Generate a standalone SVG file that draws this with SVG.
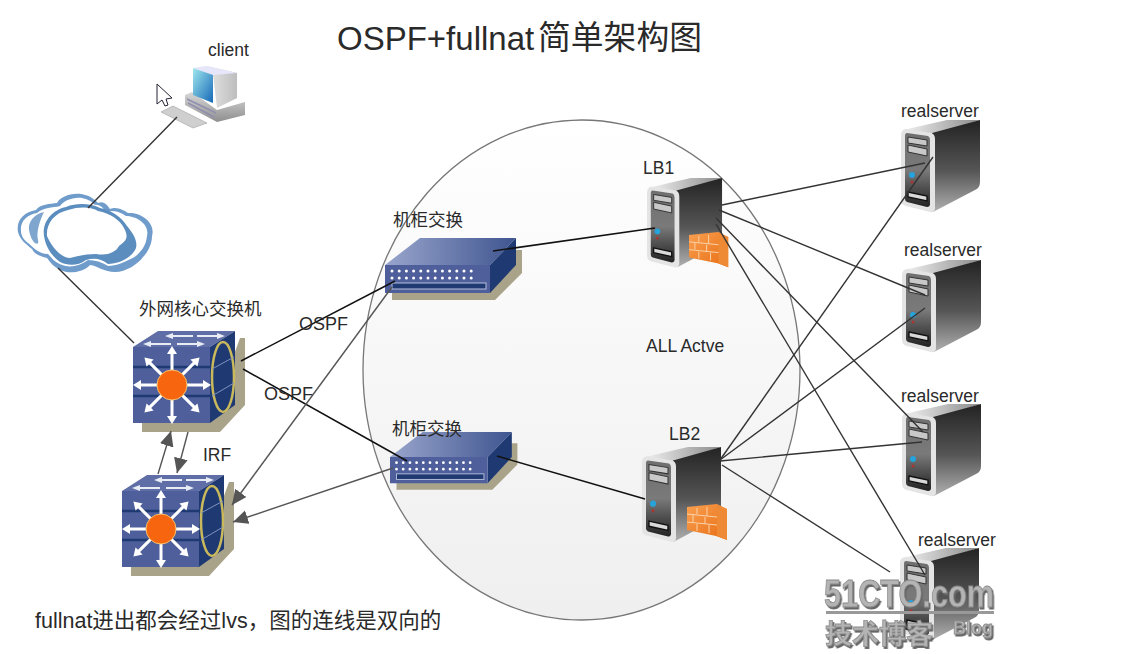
<svg xmlns="http://www.w3.org/2000/svg" width="1124" height="654" viewBox="0 0 1124 654">
<style>
text{font-family:"Liberation Sans","Noto Sans CJK SC",sans-serif;fill:#2a2a2a}
.l{font-size:17.5px}
.con line{stroke:#333;stroke-width:1.4}
.blk line{stroke:#111;stroke-width:1.5}
.arr line{stroke:#555;stroke-width:1.4;marker-end:url(#ah)}
.wm{font-weight:bold;fill:#b4b4b4;stroke:#8c8c8c;stroke-width:.8;filter:url(#ds)}
</style>
<defs>
<filter id="ds" x="-5%" y="-5%" width="110%" height="120%"><feDropShadow dx="1.500" dy="2" stdDeviation=".6" flood-color="#666"/></filter>
<marker id="ah" markerUnits="userSpaceOnUse" markerWidth="18" markerHeight="16" refX="15" refY="7" orient="auto"><path d="M0 0L15 7L0 14z" fill="#555"/></marker>
<linearGradient id="el" x1="0" y1="0" x2="0" y2="1"><stop offset="0" stop-color="#fff"/><stop offset="1" stop-color="#efefef"/></linearGradient>
<linearGradient id="side" x1="0" y1="0" x2="0" y2="1"><stop offset="0" stop-color="#232323"/><stop offset=".55" stop-color="#555"/><stop offset="1" stop-color="#b0b0b0"/></linearGradient>
<linearGradient id="topg" x1="0" y1="0" x2="1" y2="0"><stop offset="0" stop-color="#f2f2f2"/><stop offset="1" stop-color="#8a8a8a"/></linearGradient>
<linearGradient id="face" x1="0" y1="0" x2="0" y2="1"><stop offset="0" stop-color="#6f6f6f"/><stop offset=".5" stop-color="#7a7a7a"/><stop offset="1" stop-color="#222"/></linearGradient>
<linearGradient id="swtop" x1="0" y1="0" x2="1" y2="0"><stop offset="0" stop-color="#99a5cc"/><stop offset="1" stop-color="#3f5590"/></linearGradient>
<linearGradient id="scr" x1="0" y1="0" x2="1" y2="1"><stop offset="0" stop-color="#9fe8ee"/><stop offset="1" stop-color="#1768b8"/></linearGradient>
<linearGradient id="wall" x1="0" y1="0" x2="1" y2="1"><stop offset="0" stop-color="#f9a050"/><stop offset="1" stop-color="#e86d14"/></linearGradient>
<linearGradient id="pc" x1="0" y1="0" x2="1" y2="0"><stop offset="0" stop-color="#fafafa"/><stop offset="1" stop-color="#bdbdbd"/></linearGradient>
<linearGradient id="pcb" x1="0" y1="0" x2="0" y2="1"><stop offset="0" stop-color="#d8d8d8"/><stop offset="1" stop-color="#8e8e8e"/></linearGradient>
<g id="server">
<path d="M2 10L46 0H79L33 14z" fill="url(#topg)"/>
<path d="M31 13L79 0V62Q79 68 74 70L32 92z" fill="url(#side)"/>
<path d="M6 9L30 13Q34 14 34 19V88Q34 93 29 92L5 86Q0 85 0 80V15Q0 9 6 9z" fill="#e4e4e4"/>
<path d="M6 13L27 16Q29 17 29 20V84Q29 87 26 87L6 82Q4 81 4 79V16Q4 13 6 13z" fill="url(#face)"/>
<path d="M7 17L26 20V26L7 23zM7 25L26 29V36L7 32z" fill="#c8c8c8" stroke="#333" stroke-width="1"/>
<path d="M7 72L26 76V81L7 77z" fill="#d8d8d8" stroke="#111" stroke-width="1.400"/>
<circle cx="11" cy="55" r="3" fill="#27a3dc"/><circle cx="11" cy="62" r="1.500" fill="#a33"/>
</g>
<g id="wall1">
<path d="M0 3L30 0L40 5V36L29 32L0 26z" fill="url(#wall)"/>
<path d="M30 10V32L40 36V5L30 1z" fill="#ee8a35"/>
<path d="M0 10L30 13M0 18L30 21M10 4V10M20 3V12M6 11V18M18 13V20M10 20V27M22 21V29" stroke="#fbd2a8" stroke-width="1" fill="none"/>
</g>
<g id="arrow"><path d="M14 -1.500H31V-5L39 0L31 5V1.500H14z" fill="#fff"/></g>
<path id="ta" d="M0 -1H20V-3L28 0L20 3V1H0z" fill="#e8ecf5"/>
<path id="tb" d="M0 0L8 -3V-1H28V1H8V3z" fill="#e8ecf5"/>
<g id="core">
<path d="M107 7H112V74L87 101H9V90H77z" fill="#a9a38a"/>
<path d="M0 16L25 0H102L77 16z" fill="#5f6ea6"/>
<use href="#tb" x="10" y="13"/><use href="#ta" x="44" y="13"/><use href="#tb" x="32" y="5"/><use href="#ta" x="64" y="5"/>
<path d="M77 16L102 0V74L77 92z" fill="#1f3a72"/>
<path d="M0 16H77V92H0z" fill="#4e5f9c"/>
<path d="M0 36H77M0 65H77" stroke="#1f3a72" stroke-width="2.500"/>
<ellipse cx="90" cy="46" rx="11" ry="35" fill="#1f3a72" stroke="#c9b95c" stroke-width="2.500"/>
<path d="M79 38L101 26M79 65L101 52" stroke="#7f92c0" stroke-width="1"/>
<g transform="translate(39 54)">
<use href="#arrow"/><use href="#arrow" transform="rotate(45)"/><use href="#arrow" transform="rotate(90)"/><use href="#arrow" transform="rotate(135)"/><use href="#arrow" transform="rotate(180)"/><use href="#arrow" transform="rotate(225)"/><use href="#arrow" transform="rotate(270)"/><use href="#arrow" transform="rotate(315)"/>
<circle r="15" fill="#f8650f" stroke="#f6c06a" stroke-width="1"/>
</g>
</g>
<g id="switch">
<path d="M131 12H137V35L110 62H7V54H105z" fill="#a9a38a"/>
<path d="M0 27L35 0H131L105 27z" fill="url(#swtop)"/>
<path d="M105 27L131 0V27L105 55z" fill="#1f3a72"/>
<path d="M0 27H105V55H0z" fill="#4e5f9c"/>
<path d="M7 33H87M7 40H87" stroke="#fff" stroke-width="3" stroke-linecap="round" stroke-dasharray="0 7.200" fill="none"/>
<rect x="7" y="45" width="94" height="6" fill="#1f3a72" stroke="#b7c0dc" stroke-width="1"/>
</g>
</defs>

<rect width="1124" height="654" fill="#fff"/>
<g id="domain"><ellipse cx="581.500" cy="370" rx="218.500" ry="250" fill="url(#el)" stroke="#777" stroke-width="1.300"/></g>

<text x="337" y="50" font-size="33">OSPF+fullnat<tspan x="538" y="49" font-size="32.800">简单架构图</tspan></text>

<g id="client">
<text class="l" x="208" y="56">client</text>
<path d="M185 95L192 92L217 110L245 102V115L217 122L185 105z" fill="url(#pcb)"/>
<path d="M187 99L216 113M188 103L214 117" stroke="#8f8fb0" stroke-width="1.500" fill="none"/>
<path d="M193 68L207 66L237 73V98L217 108L213 75z" fill="url(#pc)"/>
<path d="M193 68L207 66L237 73L213 75z" fill="#e6e6fb"/>
<path d="M193 68L213 75V103L193 95z" fill="url(#scr)"/>
<path d="M161 112L173 106L207 123L193 128z" fill="#cfcfcf" stroke="#a0a0a0" stroke-width=".6"/>
<path d="M157 84L172 98L166 99L168 105L165 106L162 100L157 104z" fill="#fff" stroke="#223" stroke-width="1"/>
</g>

<g id="cloud">
<path d="M18 232C16 220 24 212 36 210C40 204 50 204 57 203C62 194 84 188 98 203C104 200 108 206 110 209C116 206 124 210 128 213C140 212 156 222 152 236C152 246 146 254 143 257C138 264 126 272 115 272C104 272 98 266 90 265C84 272 70 274 63 271C54 268 50 262 47 258C40 256 34 254 32 249C26 244 20 240 18 232z" fill="#6f9ccb"/>
<path d="M21 231C20 221 27 215 37 213C44 207 52 208 60 206C66 198 84 193 95 205C100 204 104 209 106 212C114 209 122 213 126 216C136 216 150 224 147 236C146 247 140 252 136 256C126 262 116 266 108 266C102 262 95 260 88 260C80 266 70 268 62 265C54 262 52 258 48 254C38 254 32 246 28 243C24 240 21 236 21 231z" fill="#fff"/>
<path d="M29 230C28 222 34 214 44 212C40 220 36 232 38 240C40 246 32 246 29 230z" fill="#7fa6cf"/>
<path d="M44 236C42 222 52 210 66 207C78 202 92 204 100 208C112 210 122 218 127 226C132 232 138 240 136 248C132 258 118 264 108 264C100 258 94 258 86 260C78 266 68 266 60 262C52 256 46 248 44 236z" fill="#5c8dbf"/>
<path d="M47 236C46 224 54 213 68 210C80 206 92 207 98 211C110 213 120 220 124 228C128 236 128 240 119 246C116 252 108 256 96 254C86 254 78 256 70 258C62 258 52 248 47 236z" fill="#fff"/>
</g>

<g id="core1"><text class="l" x="139" y="315">外网核心交换机</text><use href="#core" x="133" y="331"/></g>
<g id="core2"><use href="#core" x="122" y="475"/></g>
<g id="switch1"><text class="l" x="393" y="226">机柜交换</text><use href="#switch" x="385" y="238"/></g>
<g id="switch2"><use href="#switch" transform="translate(390 432) scale(.93 .93)"/><text class="l" x="392" y="435">机柜交换</text></g>
<g id="lb1"><text class="l" x="643" y="174">LB1</text><use href="#server" transform="translate(647 178) scale(.95 .97)"/><use href="#wall1" transform="translate(689 232) scale(.98 .98)"/></g>
<g id="lb2"><text class="l" x="669" y="440">LB2</text><use href="#server" transform="translate(642 447) scale(1 1.030)"/><use href="#wall1" x="687" y="504"/></g>
<g id="rs1"><text class="l" x="901" y="117">realserver</text><use href="#server" x="901" y="120"/></g>
<g id="rs2"><text class="l" x="904" y="256">realserver</text><use href="#server" x="902" y="260"/></g>
<g id="rs3"><text class="l" x="901" y="402">realserver</text><use href="#server" x="902" y="404"/></g>
<g id="rs4"><text class="l" x="918" y="546">realserver</text><use href="#server" x="900" y="548"/></g>

<g id="connectors">
<g class="con">
<line x1="177" y1="117" x2="88" y2="208"/>
<line x1="58" y1="268" x2="134" y2="343"/>
<line x1="722" y1="205" x2="925" y2="163"/>
<line x1="719" y1="210" x2="925" y2="295"/>
<line x1="716" y1="218" x2="923" y2="432"/>
<line x1="716" y1="224" x2="925" y2="575"/>
<line x1="720" y1="460" x2="933" y2="157"/>
<line x1="720" y1="460" x2="925" y2="308"/>
<line x1="720" y1="461" x2="922" y2="442"/>
<line x1="722" y1="465" x2="890" y2="572"/>
</g>
<g class="blk">
<line x1="241" y1="361" x2="395" y2="281"/>
<line x1="243" y1="369" x2="407" y2="461"/>
<line x1="493" y1="251" x2="655" y2="228"/>
<line x1="497" y1="456" x2="645" y2="499"/>
</g>
<g class="arr">
<line x1="392" y1="287" x2="232" y2="505"/>
<line x1="393" y1="468" x2="233" y2="522"/>
<line x1="158" y1="474" x2="171" y2="431"/>
<line x1="188" y1="432" x2="177" y2="473"/>
</g>
</g>

<g id="labels">
<text class="l" x="299" y="330" style="font-size:18px">OSPF</text>
<text class="l" x="264" y="400" style="font-size:18px">OSPF</text>
<text class="l" x="203" y="461">IRF</text>
<text class="l" x="646" y="352">ALL Actve</text>
<text x="35" y="628" font-size="21.500">fullnat进出都会经过lvs，图的连线是双向的</text>
</g>

<g id="watermark">
<text class="wm" x="824" y="607" font-size="38" textLength="170" lengthAdjust="spacingAndGlyphs">51CTO.com</text>
<rect x="826" y="611" width="168" height="3" fill="#999"/>
<text class="wm" x="825" y="644" font-size="27">技术博客</text>
<text class="wm" x="953" y="634" font-size="18">Blog</text>
</g>
</svg>
